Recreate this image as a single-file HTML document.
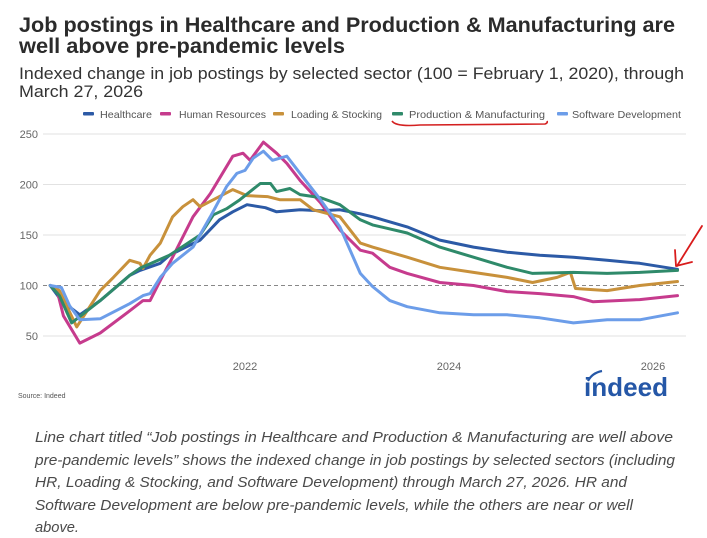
<!DOCTYPE html>
<html><head><meta charset="utf-8"><style>
html,body{margin:0;padding:0;background:#fff;width:707px;height:538px;overflow:hidden}
svg{display:block}
text{font-family:"Liberation Sans",sans-serif}
</style></head><body>
<svg id="chart" width="707" height="538" viewBox="0 0 707 538" xmlns="http://www.w3.org/2000/svg">
<text x="19" y="32" font-size="21" font-weight="bold" fill="#2b2b2b" textLength="656" lengthAdjust="spacingAndGlyphs">Job postings in Healthcare and Production &amp; Manufacturing are</text>
<text x="19" y="53" font-size="21" font-weight="bold" fill="#2b2b2b" textLength="326" lengthAdjust="spacingAndGlyphs">well above pre-pandemic levels</text>
<text x="19" y="79" font-size="17" fill="#333" textLength="665" lengthAdjust="spacingAndGlyphs">Indexed change in job postings by selected sector (100 = February 1, 2020), through</text>
<text x="19" y="97" font-size="17" fill="#333" textLength="124" lengthAdjust="spacingAndGlyphs">March 27, 2026</text>
<g id="legend"></g>
<path d="M392 121 Q396 127 420 125 L545 124 Q548 123 547 121" fill="none" stroke="#d42020" stroke-width="1.6"/>
<g id="grid"></g>
<g id="lines"></g>
<path d="M702 226 Q690 245 677 266 M676 266 L675 250 M676 266 L692 262" fill="none" stroke="#d91c1c" stroke-width="1.8" stroke-linecap="round"/>
<text x="18" y="398" font-size="7" fill="#555">Source: Indeed</text>
<g>
<path d="M588 381 Q592 373 602 371" fill="none" stroke="#2557a7" stroke-width="2.2"/>
<text x="584" y="396" font-size="26" font-weight="bold" fill="#2557a7" textLength="84" lengthAdjust="spacingAndGlyphs">indeed</text>
</g>
<g font-size="15" font-style="italic" fill="#4a4a4a">
<text x="35" y="442" textLength="638" lengthAdjust="spacingAndGlyphs">Line chart titled “Job postings in Healthcare and Production &amp; Manufacturing are well above</text>
<text x="35" y="465" textLength="640" lengthAdjust="spacingAndGlyphs">pre-pandemic levels” shows the indexed change in job postings by selected sectors (including</text>
<text x="35" y="487" textLength="592" lengthAdjust="spacingAndGlyphs">HR, Loading &amp; Stocking, and Software Development) through March 27, 2026. HR and</text>
<text x="35" y="510" textLength="598" lengthAdjust="spacingAndGlyphs">Software Development are below pre-pandemic levels, while the others are near or well</text>
<text x="35" y="532" textLength="44" lengthAdjust="spacingAndGlyphs">above.</text>
</g>
</svg>
<script>
const yTicks=[250,200,150,100,50];
const xTickYears=[2022,2024,2026];
const xTickLabels=["2022","2024","2026"];
const seriesNames=["Healthcare","Human Resources","Loading & Stocking","Production & Manufacturing","Software Development"];
const hcDates=[2020.09,2020.2,2020.38,2020.58,2020.87,2020.97,2021.17,2021.26,2021.46,2021.56,2021.75,2021.88,2022.02,2022.2,2022.31,2022.54,2022.74,2022.93,2023.13,2023.25,2023.59,2023.91,2024.24,2024.57,2024.89,2025.22,2025.55,2025.87,2026.24];
const hcValues=[100,85,71,85,110,115,122,130,140,145,165,173,180,177,173,175,174,175,171,168,158,145,138,133,130,128,125,122,116];
const hrDates=[2020.09,2020.15,2020.22,2020.38,2020.58,2020.87,2021.0,2021.07,2021.17,2021.29,2021.49,2021.66,2021.88,2021.98,2022.05,2022.18,2022.31,2022.41,2022.54,2022.74,2022.93,2023.13,2023.25,2023.42,2023.59,2023.91,2024.24,2024.57,2024.89,2025.22,2025.41,2025.87,2026.24];
const hrValues=[100,98,70,43,53,75,85,85,105,128,168,191,228,231,224,242,231,221,204,182,155,135,132,118,112,103,100,94,92,89,84,86,90];
const lsDates=[2020.09,2020.18,2020.35,2020.58,2020.71,2020.87,2020.97,2021.0,2021.07,2021.17,2021.29,2021.39,2021.49,2021.56,2021.69,2021.88,2022.02,2022.22,2022.34,2022.54,2022.67,2022.93,2023.03,2023.13,2023.25,2023.59,2023.91,2024.24,2024.57,2024.82,2025.06,2025.19,2025.24,2025.55,2025.87,2026.24];
const lsValues=[100,95,59,95,108,125,122,117,130,142,168,178,185,178,185,195,189,188,185,185,175,168,155,142,138,128,118,113,108,103,108,113,97,95,100,104];
const pmDates=[2020.09,2020.18,2020.3,2020.58,2020.87,2020.97,2021.26,2021.56,2021.69,2021.82,2021.95,2022.15,2022.25,2022.31,2022.44,2022.54,2022.74,2022.93,2023.13,2023.25,2023.59,2023.91,2024.24,2024.57,2024.82,2025.22,2025.55,2025.87,2026.24];
const pmValues=[100,90,63,85,110,117,130,150,170,176,185,201,201,193,196,190,187,180,165,160,152,138,128,118,112,113,112,113,115];
const sdDates=[2020.09,2020.2,2020.28,2020.38,2020.58,2020.87,2021.0,2021.07,2021.17,2021.29,2021.49,2021.66,2021.82,2021.92,2022.0,2022.08,2022.18,2022.27,2022.41,2022.54,2022.74,2022.93,2023.13,2023.25,2023.42,2023.59,2023.91,2024.24,2024.57,2024.89,2025.22,2025.55,2025.87,2026.24];
const sdValues=[100,98,80,66,67,82,90,92,108,122,138,168,198,211,214,226,233,224,228,211,185,158,112,99,85,79,73,71,71,68,63,66,66,73];
const colors=["#2c5aa6","#c63b8d","#c8913b","#2f8a6a","#6c9de9"];

const X0=41,PX_PER_YEAR=102,Y_TOP=134,Y250=250,PX_PER_UNIT=1.01;
const PL=43,PR=686;
function xScale(yr){return X0+(yr-2020)*PX_PER_YEAR;}
function yScale(v){return Y_TOP+(Y250-v)*PX_PER_UNIT;}
const NS="http://www.w3.org/2000/svg";
function mk(tag,attrs){const e=document.createElementNS(NS,tag);for(const k in attrs)e.setAttribute(k,attrs[k]);return e;}

const grid=document.getElementById('grid');
yTicks.forEach(v=>{
  const y=yScale(v);
  const ln=mk('line',{x1:PL,x2:PR,y1:y,y2:y,stroke:v===100?'#888':'#e2e2e2','stroke-width':1});
  if(v===100)ln.setAttribute('stroke-dasharray','4,3');
  
  
  grid.appendChild(ln);
  const t=mk('text',{x:38,y:y+4,'font-size':11,fill:'#666','text-anchor':'end'});
  t.textContent=String(v);
  
  
  grid.appendChild(t);
});
xTickYears.forEach((yr,i)=>{
  const t=mk('text',{x:xScale(yr),y:370,'font-size':11,fill:'#666','text-anchor':'middle'});
  t.textContent=xTickLabels[i];
  
  
  grid.appendChild(t);
});

const allDates=[hcDates,hrDates,lsDates,pmDates,sdDates];
const allValues=[hcValues,hrValues,lsValues,pmValues,sdValues];
const lineNames=['healthcare-line','human-resources-line','loading-stocking-line','production-manufacturing-line','software-development-line'];
const lines=document.getElementById('lines');
allDates.forEach((ds,i)=>{
  const vs=allValues[i];
  const d=ds.map((yr,j)=>(j?'L':'M')+xScale(yr).toFixed(1)+' '+yScale(vs[j]).toFixed(1)).join(' ');
  const p=mk('path',{d:d,fill:'none',stroke:colors[i],'stroke-width':3,'stroke-linejoin':'round','stroke-linecap':'round'});
  
  
  lines.appendChild(p);
});

const legSw=[83,160,273,392,557];
const legTx=[100,179,291,409,572];
const legLen=[52,87,91,136,109];
const legend=document.getElementById('legend');
seriesNames.forEach((n,i)=>{
  const r=mk('rect',{x:legSw[i],y:112,width:11,height:3.5,fill:colors[i],rx:1});
  
  
  legend.appendChild(r);
  const t=mk('text',{x:legTx[i],y:118,'font-size':10.5,fill:'#555',textLength:legLen[i],lengthAdjust:'spacingAndGlyphs'});
  t.textContent=n;
  
  
  legend.appendChild(t);
});
</script>
</body></html>
